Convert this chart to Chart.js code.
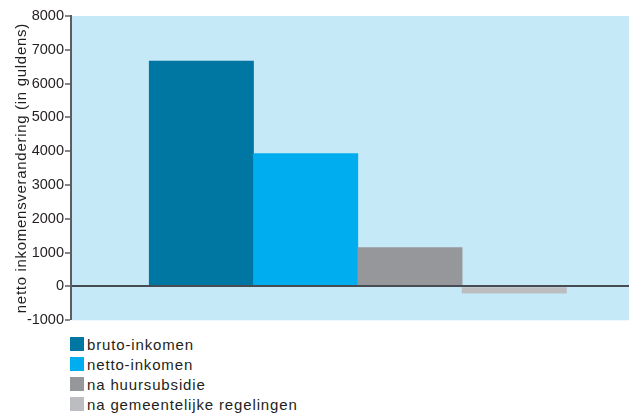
<!DOCTYPE html>
<html lang="nl">

<head>
    <meta charset="UTF-8">
    <title>Inkomensverandering</title>
    <script src="https://cdn.jsdelivr.net/npm/chart.js"></script>
    <style>
        body {
            margin: 0;
            background: #fff;
            font-family: "Liberation Sans", Arial, sans-serif;
            overflow: hidden;
        }

        .grafiek {
            position: relative;
            width: 629px;
            height: 330px;
        }

        .legenda {
            position: absolute;
            left: 70px;
            top: 334px;
        }

        .legenda div {
            height: 20px;
            font-size: 15px;
            letter-spacing: 0.85px;
            color: #231f20;
            display: flex;
            align-items: center;
        }

        .legenda span.blok {
            width: 14px;
            height: 14px;
            margin-right: 3px;
            display: inline-block;
        }
    </style>
</head>

<body>
    <div class="grafiek">
        <canvas id="grafiek"></canvas>
    </div>
    <div class="legenda" id="legenda"></div>

    <script>
        // reeksen en hun waarden (gulden)
        var reeksen = ['bruto-inkomen', 'netto-inkomen', 'na huursubsidie', 'na gemeentelijke regelingen'];
        var waarden = [6670, 3930, 1150, -200];
        var posities = [1, 2, 3, 4];
        var kleuren = ['#0076a3', '#00aeef', '#96979b', '#bcbdc1'];
        var yTicks = [-1000, 0, 1000, 2000, 3000, 4000, 5000, 6000, 7000, 8000];

        // lichtblauwe achtergrond achter het plotvlak
        const achtergrond = {
            id: 'achtergrond',
            beforeDraw(chart) {
                const ctx = chart.ctx;
                const a = chart.chartArea;
                ctx.save();
                ctx.fillStyle = '#c6e9f8';
                ctx.fillRect(a.left, a.top, a.right - a.left, a.bottom - a.top);
                ctx.restore();
            },
            // de astitel (laag z=1) iets ruimer spatiëren
            afterDatasetsDraw(chart) {
                chart.ctx.letterSpacing = '0.7px';
            },
            afterDraw(chart) {
                chart.ctx.letterSpacing = '0px';
            }
        };

        var punten = [];
        for (var i = 0; i < waarden.length; i++) {
            punten.push({ x: posities[i], y: waarden[i] });
        }

        const ctx = document.getElementById('grafiek').getContext('2d');
        const grafiek = new Chart(ctx, {
            type: 'bar',
            data: {
                datasets: [{
                    label: 'inkomensverandering',
                    data: punten,
                    backgroundColor: kleuren,
                    barPercentage: 1,
                    categoryPercentage: 1
                }]
            },
            options: {
                responsive: true,
                maintainAspectRatio: false,
                animation: false,
                layout: { padding: { top: 16, bottom: 9, right: 0, left: 0 } },
                plugins: {
                    legend: { display: false },
                    tooltip: { enabled: false }
                },
                scales: {
                    x: {
                        type: 'linear',
                        display: false,
                        offset: false,
                        bounds: 'data',
                        min: -0.25,
                        max: 5.1,
                        // alleen de randen als ticks, zodat de balkbreedte 1 eenheid is
                        afterBuildTicks(scale) {
                            scale.ticks = [{ value: scale.min }, { value: scale.max }];
                        }
                    },
                    y: {
                        min: -1000,
                        max: 8000,
                        afterFit(scale) { scale.width = 71; },
                        afterBuildTicks(scale) {
                            scale.ticks = yTicks.map(v => ({ value: v }));
                        },
                        // as na de nullijn tekenen
                        border: { color: '#5a5e63', width: 2, z: 2 },
                        grid: {
                            z: 1,
                            color: c => c.tick && c.tick.value === 0 ? '#474c52' : 'rgba(0,0,0,0)',
                            lineWidth: c => c.tick && c.tick.value === 0 ? 2 : 0,
                            tickColor: '#5a5e63',
                            tickWidth: 1.5,
                            tickLength: 6,
                            drawTicks: true
                        },
                        ticks: {
                            padding: 1,
                            color: '#231f20',
                            font: { family: 'Liberation Sans', size: 14.5 },
                            callback: v => String(v)
                        },
                        title: {
                            display: true,
                            text: 'netto inkomensverandering (in guldens)',
                            color: '#231f20',
                            padding: { top: 13, bottom: 0 },
                            font: { family: 'Liberation Sans', size: 15 }
                        }
                    }
                }
            },
            plugins: [achtergrond]
        });

        // legenda onder de grafiek
        var legenda = document.getElementById('legenda');
        for (var j = 0; j < reeksen.length; j++) {
            var regel = document.createElement('div');
            var blok = document.createElement('span');
            blok.className = 'blok';
            blok.style.background = kleuren[j];
            regel.appendChild(blok);
            regel.appendChild(document.createTextNode(reeksen[j]));
            legenda.appendChild(regel);
        }
    </script>
</body>

</html>
